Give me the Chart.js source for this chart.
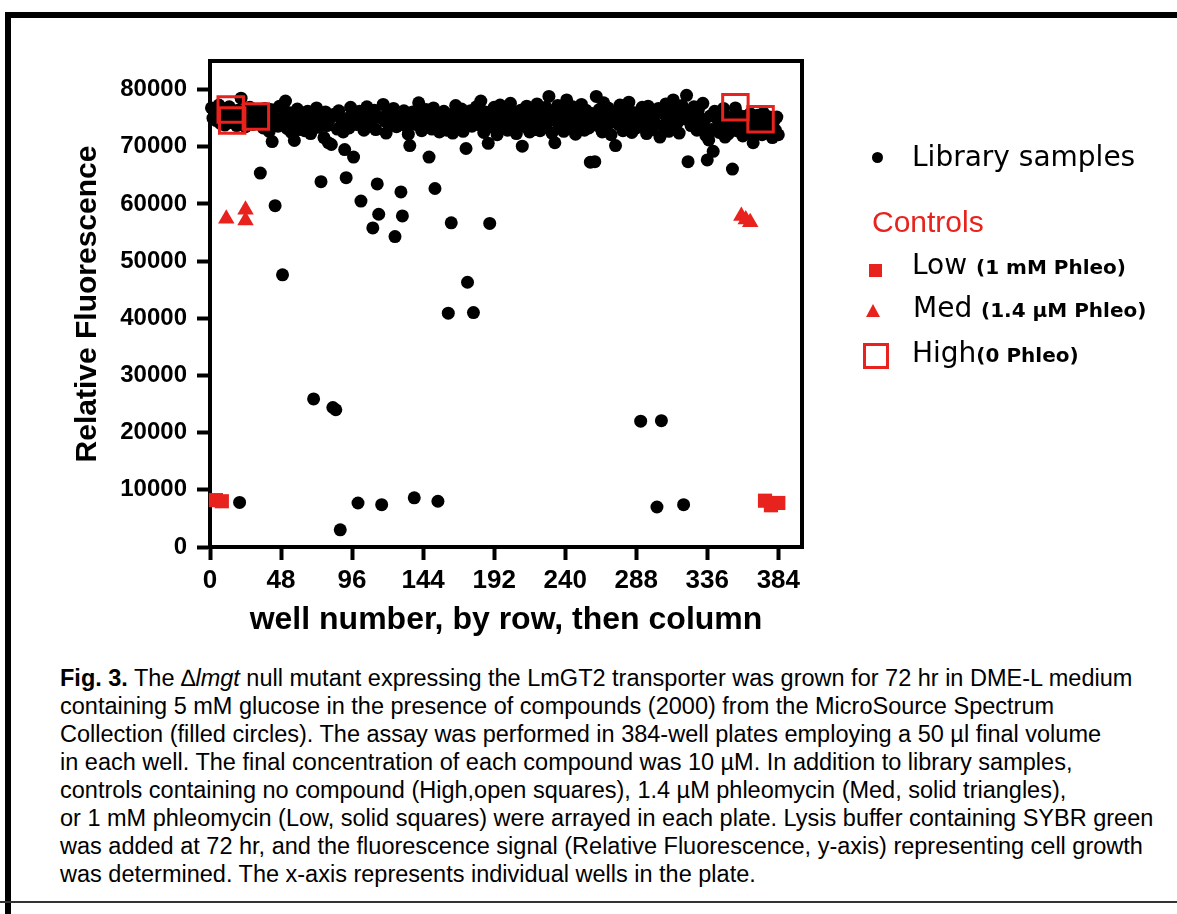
<!DOCTYPE html>
<html>
<head>
<meta charset="utf-8">
<script src="https://cdn.jsdelivr.net/npm/chart.js@4.4.0/dist/chart.umd.min.js"></script>
<style>
  body { margin: 0; background: #fff; width: 1177px; height: 914px; position: relative; overflow: hidden;
         font-family: "Liberation Sans", Arial, sans-serif; color: #000; }
  #chartBox { position: absolute; left: 0; top: 0; width: 1177px; height: 660px; }
  .bar { position: absolute; background: #000; }
  .mk { position: absolute; box-sizing: border-box; }
  .lg { position: absolute; white-space: nowrap; font-family: "DejaVu Sans", sans-serif; font-size: 28px; line-height: 28px; }
  .lg b { font-size: 20px; font-weight: bold; }
  .ctl { position: absolute; white-space: nowrap; font-size: 30px; line-height: 30px; color: #e8221c; }
  #caption { position: absolute; left: 60px; top: 664px; font-size: 23.5px; line-height: 28px; white-space: nowrap; }
</style>
</head>
<body>
<div class="bar" style="left:5px;top:12px;width:1172px;height:6px"></div>
<div class="bar" style="left:5px;top:12px;width:6px;height:902px"></div>
<div class="bar" style="left:0;top:901px;width:1177px;height:2px;background:#333"></div>

<div id="chartBox"><canvas id="chart" width="1177" height="660"></canvas></div>

<!-- legend -->
<span class="mk" style="left:872px;top:152px;width:11px;height:11px;border-radius:50%;background:#000"></span>
<div class="lg" style="left:912px;top:143px">Library samples</div>
<div class="ctl" style="left:872px;top:207px">Controls</div>
<span class="mk" style="left:869px;top:264px;width:13px;height:13px;background:#e8221c"></span>
<div class="lg" style="left:912px;top:251px">Low <b>(1 mM Phleo)</b></div>
<span class="mk" style="left:866px;top:304px;width:0;height:0;border-left:7px solid transparent;border-right:7px solid transparent;border-bottom:13px solid #e8221c"></span>
<div class="lg" style="left:913px;top:294px">Med <b>(1.4 µM Phleo)</b></div>
<span class="mk" style="left:863px;top:343px;width:26px;height:26px;border:3px solid #e8221c"></span>
<div class="lg" style="left:912px;top:339px">High<b>(0 Phleo)</b></div>

<div id="caption">
<div><b>Fig. 3.</b> The ∆<i>lmgt</i> null mutant expressing the LmGT2 transporter was grown for 72 hr in DME-L medium</div>
<div>containing 5 mM glucose in the presence of compounds (2000) from the MicroSource Spectrum</div>
<div>Collection (filled circles). The assay was performed in 384-well plates employing a 50 µl final volume</div>
<div>in each well. The final concentration of each compound was 10 µM. In addition to library samples,</div>
<div>controls containing no compound (High,open squares), 1.4 µM phleomycin (Med, solid triangles),</div>
<div>or 1 mM phleomycin (Low, solid squares) were arrayed in each plate. Lysis buffer containing SYBR green</div>
<div>was added at 72 hr, and the fluorescence signal (Relative Fluorescence, y-axis) representing cell growth</div>
<div>was determined. The x-axis represents individual wells in the plate.</div>
</div>

<script>
// library samples: one value per well, wells 1..384
var libraryValues = [
  76800, 75000, 76200, 74600, 75800, 77300, 74100, 75500, 76600, 73800, 75900, 74700, 77000, 75300, 74200, 76100,
  75200, 73700, 76400, 7800, 78500, 74900, 76000, 73500, 75600, 74300, 76900, 75100, 73900, 75700, 74500, 76300,
  74800, 65400, 75400, 73300, 76700, 74000, 75900, 72700, 76500, 70900, 74400, 59700, 75000, 73600, 77100, 74900,
  47600, 75300, 78000, 73200, 76000, 74600, 72500, 75800, 71100, 74200, 76600, 73000, 75400, 74100, 75900, 72800,
  73000, 76200, 74700, 72300, 75500, 25900, 74000, 76800, 73400, 75200, 63900, 74600, 71600, 76100, 73700, 70700,
  74900, 70400, 24400, 75700, 24000, 73100, 76300, 3000, 74400, 72600, 69500, 64600, 75000, 73300, 76900, 74200,
  68200, 75600, 73900, 7700, 76200, 60500, 74700, 72900, 75300, 77000, 73600, 75800, 74300, 55800, 76400, 73000,
  63500, 58200, 75100, 7400, 77400, 74500, 72400, 76000, 73800, 75500, 74100, 76700, 54300, 73500, 75200, 74800,
  62100, 57900, 76300, 73700, 75000, 72200, 70200, 74600, 76100, 8600, 73900, 75700, 77700, 74000, 72800, 75400,
  73300, 76500, 74400, 68200, 75900, 73100, 76800, 62700, 74700, 8000, 72600, 75300, 73800, 76200, 74900, 72900,
  40900, 75600, 56700, 72400, 74300, 77200, 73500, 75800, 74100, 76600, 72700, 75100, 69700, 46300, 74500, 76300,
  73600, 41000, 75400, 77000, 73900, 75700, 78000, 74200, 72500, 76100, 74800, 70600, 56600, 75200, 73400, 76900,
  74600, 72100, 75900, 77300, 73700, 75300, 74400, 76700, 72900, 75000, 77600, 73200, 76000, 74900, 72300, 75700,
  74000, 76400, 70100, 75200, 73500, 77100, 74700, 72600, 76200, 74300, 75800, 73000, 77500, 74500, 72800, 76600,
  75100, 73400, 76900, 74200, 78800, 75500, 72400, 76300, 70700, 74800, 77200, 73600, 75900, 74400, 72700, 76700,
  78200, 74100, 75600, 73200, 77000, 74700, 72200, 76100, 75300, 73800, 77400, 74500, 72900, 76400, 75000, 73300,
  67300, 75800, 74200, 67400, 78800, 73700, 76500, 74900, 72600, 77700, 75200, 73500, 76800, 74300, 72100, 75600,
  74600, 70200, 76200, 73900, 77300, 75000, 72800, 76600, 74400, 73100, 77800, 75400, 72500, 76000, 74700, 73300,
  75700, 74000, 22000, 76900, 73600, 75300, 72300, 77100, 74800, 76300, 73000, 75500, 74100, 7000, 76700, 71700,
  22100, 75900, 73400, 77500, 74600, 72700, 76100, 75000, 78200, 73800, 76400, 74300, 72400, 75700, 77200, 7400,
  74900, 79000, 67400, 76000, 73700, 75300, 77000, 74200, 72900, 76500, 75100, 73300, 77600, 74600, 72000, 67700,
  71200, 75400, 73000, 69200, 76200, 73000, 74800, 72500, 75800, 73900, 76700, 71700, 74400, 72200, 75100, 73500,
  66100, 74700, 76800, 72800, 75600, 73600, 74100, 71900, 75300, 73200, 74900, 72400, 75800, 73800, 70700, 74300,
  72600, 75500, 73300, 74600, 72100, 75900, 73700, 74900, 72800, 75200, 73400, 71600, 74500, 72900, 75200, 72100
];

// controls
var lowWells = [4, 8, 375, 379, 384];
var lowValues = [8200, 8000, 8100, 7300, 7700];
var medWells = [11, 24, 24, 359, 362, 365];
var medValues = [57400, 59000, 57100, 57900, 57300, 56800];
var highWells = [14, 15, 31, 355, 372];
var highValues = [76500, 74600, 75300, 76900, 74800];

// axis ticks
var xTicks = [0, 48, 96, 144, 192, 240, 288, 336, 384];
var yTicks = [0, 10000, 20000, 30000, 40000, 50000, 60000, 70000, 80000];

var red = '#e8221c';

function pairs(xs, ys) {
  return xs.map(function (x, i) { return { x: x, y: ys[i] }; });
}

// closes the box on the top and right sides of the plot
var boxPlugin = {
  id: 'box',
  beforeDatasetsDraw: function (chart) {
    var a = chart.chartArea, ctx = chart.ctx;
    ctx.save();
    ctx.strokeStyle = '#000';
    ctx.lineWidth = 4;
    ctx.strokeRect(a.left, a.top, a.right - a.left, a.bottom - a.top);
    ctx.restore();
  }
};

var axisGrid = { drawOnChartArea: false, drawTicks: true, tickLength: 13, tickWidth: 4, tickColor: '#000' };

new Chart(document.getElementById('chart'), {
  type: 'scatter',
  data: {
    datasets: [
      { label: 'High', data: pairs(highWells, highValues), pointStyle: 'rect', pointRadius: 18,
        borderColor: red, borderWidth: 3, backgroundColor: 'rgba(0,0,0,0)', order: 1, clip: false },
      { label: 'Med', data: pairs(medWells, medValues), pointStyle: 'triangle', pointRadius: 9.5,
        borderColor: red, borderWidth: 0, backgroundColor: red, order: 1, clip: false },
      { label: 'Low', data: pairs(lowWells, lowValues), pointStyle: 'rect', pointRadius: 10,
        borderColor: red, borderWidth: 0, backgroundColor: red, order: 1, clip: false },
      { label: 'Library samples', data: libraryValues.map(function (v, i) { return { x: i + 1, y: v }; }),
        pointStyle: 'circle', pointRadius: 6.5, borderWidth: 0, backgroundColor: '#000', order: 2, clip: false }
    ]
  },
  options: {
    responsive: false,
    animation: false,
    events: [],
    layout: { padding: { left: 60, top: 61, right: 375, bottom: 0 } },
    plugins: { legend: { display: false }, tooltip: { enabled: false } },
    scales: {
      x: {
        type: 'linear', min: 0, max: 400,
        afterBuildTicks: function (s) { s.ticks = xTicks.map(function (v) { return { value: v }; }); },
        afterFit: function (s) { s.height = 113; },
        ticks: { autoSkip: false, maxRotation: 0, padding: 5, color: '#000',
                 font: { family: '"Liberation Sans", Arial', size: 26, weight: 'bold' } },
        grid: axisGrid,
        border: { display: true, width: 4, color: '#000' },
        title: { display: true, text: 'well number, by row, then column', color: '#000',
                 font: { family: '"Liberation Sans", Arial', size: 32, weight: 'bold' }, padding: { top: 0, bottom: 21 } }
      },
      y: {
        type: 'linear', min: 0, max: 85000,
        afterBuildTicks: function (s) { s.ticks = yTicks.map(function (v) { return { value: v }; }); },
        afterFit: function (s) { s.width = 150; },
        ticks: { padding: 10, color: '#000', callback: function (v) { return String(v); },
                 font: { family: '"Liberation Sans", Arial', size: 24, weight: 'bold' } },
        grid: axisGrid,
        border: { display: true, width: 4, color: '#000' },
        title: { display: true, text: 'Relative Fluorescence', color: '#000',
                 font: { family: '"Liberation Sans", Arial', size: 30, weight: 'bold' }, padding: { top: 10, bottom: 0 } }
      }
    }
  },
  plugins: [boxPlugin]
});
</script>
</body>
</html>
